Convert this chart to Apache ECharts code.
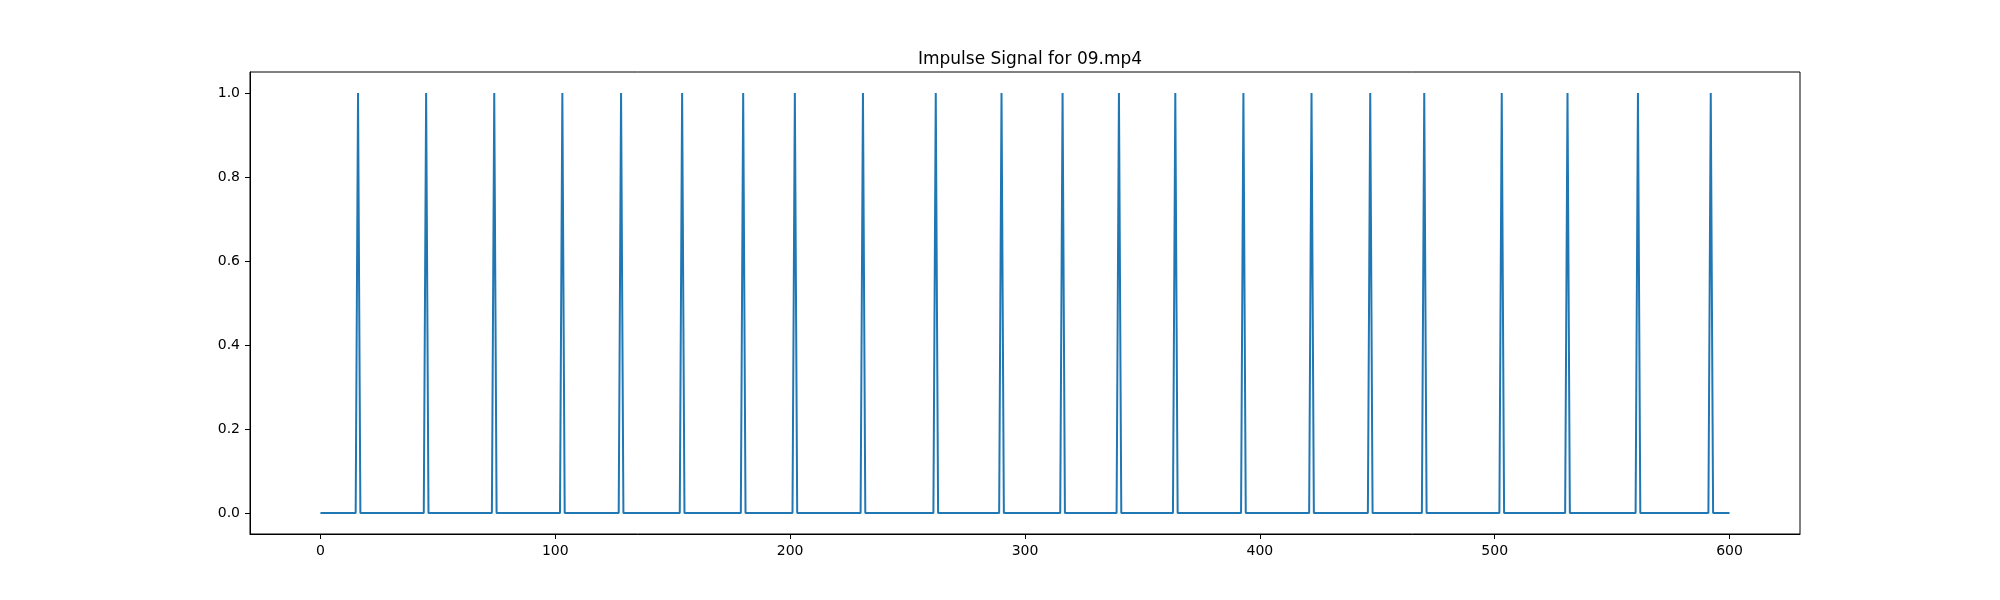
<!DOCTYPE html>
<html>
<head>
<meta charset="utf-8">
<script src="https://cdn.jsdelivr.net/npm/echarts@6/dist/echarts.min.js"></script>
<style>
html,body{margin:0;padding:0;background:#fff;}
#chart{width:2000px;height:600px;}
</style>
</head>
<body>
<div id="chart"></div>
<script>
const titleText = 'Impulse Signal for 09.mp4';
const frameCount = 601; // frames 0..600
const peakFrames = [16, 45, 74, 103, 128, 154, 180, 202, 231, 262, 290, 316, 340, 364, 393, 422, 447, 470, 503, 531, 561, 592];
const xTicks = [0, 100, 200, 300, 400, 500, 600];
const yTicks = [0, 0.2, 0.4, 0.6, 0.8, 1.0];

// impulse signal: 0 everywhere, 1 at detected frames
const peakSet = new Set(peakFrames);
const signal = [];
for (let i = 0; i < frameCount; i++) signal.push([i, peakSet.has(i) ? 1 : 0]);

const chart = echarts.init(document.getElementById('chart'), null, {renderer: 'canvas'});
const font = 'DejaVu Sans';
chart.setOption({
  animation: false,
  backgroundColor: '#ffffff',
  title: {
    text: titleText,
    left: 1025, top: 46, textAlign: 'center',
    textStyle: {fontFamily: font, fontSize: 17, fontWeight: 'normal', color: '#000'}
  },
  grid: {
    left: 250, right: 200, top: 72, bottom: 66,
    show: true, borderColor: '#000', borderWidth: 1, backgroundColor: 'transparent'
  },
  xAxis: {
    type: 'value', min: -30, max: 630,
    axisLine: {show: true, onZero: false, lineStyle: {color: '#000', width: 1}},
    axisTick: {show: true, inside: false, length: 5, lineStyle: {color: '#000', width: 1}, customValues: xTicks},
    axisLabel: {show: true, margin: 10, color: '#000', fontFamily: font, fontSize: 14, customValues: xTicks,
      formatter: v => String(v)},
    splitLine: {show: false}
  },
  yAxis: {
    type: 'value', min: -0.05, max: 1.05,
    axisLine: {show: true, onZero: false, lineStyle: {color: '#000', width: 1}},
    axisTick: {show: true, inside: false, length: 5, lineStyle: {color: '#000', width: 1}, customValues: yTicks},
    axisLabel: {show: true, margin: 10, color: '#000', fontFamily: font, fontSize: 14, customValues: yTicks,
      formatter: v => v.toFixed(1)},
    splitLine: {show: false}
  },
  series: [{
    type: 'line',
    data: signal,
    showSymbol: false,
    symbol: 'none',
    lineStyle: {color: '#1f77b4', width: 2},
    itemStyle: {color: '#1f77b4'},
    z: 3
  }]
});
</script>
</body>
</html>
